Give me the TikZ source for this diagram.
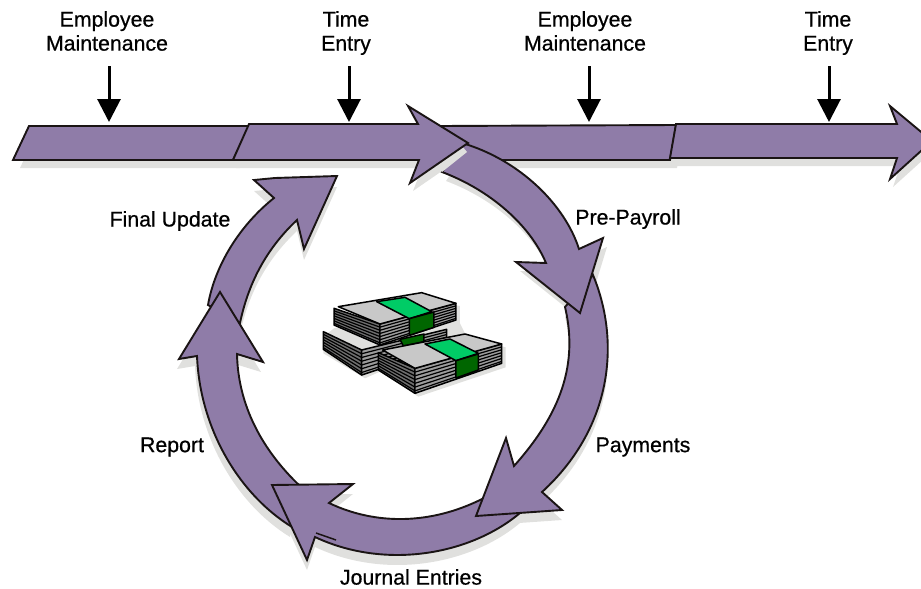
\documentclass[tikz,border=0pt]{standalone}
\usepackage{fontspec}
\setmainfont{Liberation Sans}
\newfontfamily\lblfont{Liberation Sans}[RawFeature={embolden=0.6}]
\usetikzlibrary{arrows.meta,calc}
\definecolor{purp}{HTML}{8F7CA8}
\definecolor{shad}{HTML}{E0E0DE}
\definecolor{ink}{HTML}{1A1414}
\definecolor{grn}{HTML}{00CC66}
\definecolor{dgrn}{HTML}{006600}
\definecolor{billtop}{HTML}{C8C8C8}
\definecolor{billlong}{HTML}{9C9C9C}
\definecolor{billend}{HTML}{6E6E6E}
\tikzset{
  band/.style={fill=purp,draw=ink,line width=1.9pt,line join=miter,miter limit=20},
  shadowfill/.style={fill=shad},
  lbl/.style={font=\lblfont\fontsize{21.3}{24}\selectfont,align=center,text=black,inner sep=0pt},
  drop/.style={line width=3pt,draw=black,-{Triangle[width=23pt,length=23pt]},shorten >=0pt},
  bill/.style={draw=black,line width=1.5pt,line join=round},
}
\def\pSegA{(13,160) -- (29,126) -- (249,126) -- (233,160) -- cycle}
\def\pSegB{(233,160) -- (249,124) -- (418,124) -- (408,106) -- (468,143) -- (410,183) -- (419,160) -- cycle}
\def\pSegC{(440,126) -- (676,125) -- (670,160) -- (440,160) -- cycle}
\def\pSegD{(670,158) -- (676,124) -- (897,124) -- (890,106) -- (932,141) -- (890,179) -- (897,158) -- cycle}
\def\pPre{(442,172) .. controls (490,190) and (530,225) .. (546,263) -- (516,262) -- (580,313) -- (603,238) -- (579,249) .. controls (565,205) and (520,160) .. (462,143) -- cycle}
\def\pPay{(593,275) .. controls (622,345) and (610,430) .. (542,492) -- (562,510) -- (476,516) -- (506,438) -- (514,466) .. controls (555,420) and (580,370) .. (565,307) -- cycle}
\def\pJE{(520,513) .. controls (470,555) and (385,570) .. (315,537) -- (307,560) -- (272,485) -- (353,484) -- (329,503) .. controls (375,525) and (430,525) .. (482,499) -- cycle}
\def\pRep{(292,527) .. controls (240,495) and (200,430) .. (197,356) -- (179,359) -- (220,292) -- (263,362) -- (237,354) .. controls (238,405) and (262,450) .. (300,486) -- cycle}
\def\pFU{(208,305) .. controls (215,265) and (240,225) .. (274,198) -- (254,180) -- (275,178) -- (337,176) -- (304,249) -- (297,220) .. controls (265,250) and (248,285) .. (240,323) -- cycle}
% one stack face filled and striped along its long side
\newcommand\stripedface[5]{%
  \fill[#5] #1 -- #2 -- #3 -- #4 -- cycle;
  \foreach \t in {0.15,0.3,0.45,0.6,0.75,0.9}{\draw[black,line width=1.2pt] ($#1!\t!#4$) -- ($#2!\t!#3$);}
  \draw[bill] #1 -- #2 -- #3 -- #4 -- cycle;}
\begin{document}
\begin{tikzpicture}[x=1pt,y=-1pt]
\useasboundingbox (0,0) rectangle (921,589);
\clip (0,0) rectangle (921,589);
% drop shadows
\fill[shadowfill,shift={(7,8)}] \pSegA;
\fill[shadowfill,shift={(7,8)}] (233,152) -- (419,152) -- (419,160) -- (233,160) -- cycle;
\fill[shadowfill,shift={(3,8)}] \pSegB;
\fill[shadowfill,shift={(7,8)}] \pSegC;
\fill[shadowfill,shift={(3,8)}] \pSegD;
\fill[shadowfill,shift={(4,9)}] \pPre;
\fill[shadowfill,shift={(0,10)}] \pPay;
\fill[shadowfill,shift={(0,10)}] \pJE;
\fill[shadowfill,shift={(-2,10)}] \pRep;
\fill[shadowfill,shift={(0,11)}] \pFU;
% bars and loop, back to front
\draw[band] \pSegC;
\draw[band] \pSegA;
\draw[band] \pFU;
\draw[band] \pRep;
\draw[band] \pJE;
\draw[ink,line width=1.5pt] (316,533) -- (336,540);
\draw[band] \pPay;
\draw[band] \pPre;
\fill[shad] (462,146) -- (467,152) -- (442,172) -- (435,165) -- cycle;
\draw[band] \pSegB;
\draw[band] \pSegD;
% money
\begin{scope}[shift={(300,270)},x=0.3333pt,y=-0.3333pt]
  \fill[shad] (102,175) -- (70,200) -- (70,250) -- (195,325) -- (240,305) -- (355,380) -- (617,292) -- (617,232) -- (500,200) -- (480,160) -- (480,108) -- (440,100) -- cycle;
  % lower-left stack
  \stripedface{(70,185)}{(185,240)}{(185,315)}{(70,238)}{billend}
  \stripedface{(185,240)}{(440,178)}{(440,230)}{(185,315)}{billlong}
  \fill[dgrn] (300,208) -- (372,192) -- (372,215) -- (310,228) -- cycle;
  \draw[bill] (300,208) -- (372,192) -- (372,215) -- (310,228) -- cycle;
  % back stack
  \stripedface{(102,115)}{(240,162)}{(240,225)}{(102,165)}{billend}
  \stripedface{(240,162)}{(468,100)}{(468,150)}{(240,225)}{billlong}
  \fill[billtop] (115,110) -- (365,68) -- (468,100) -- (240,162) -- cycle;
  \draw[bill] (115,110) -- (365,68) -- (468,100) -- (240,162) -- cycle;
  \fill[grn] (230,95) -- (315,82) -- (395,125) -- (328,146) -- cycle;
  \draw[bill] (230,95) -- (315,82) -- (395,125) -- (328,146) -- cycle;
  \fill[dgrn] (328,146) -- (402,126) -- (402,172) -- (328,196) -- cycle;
  \draw[bill] (328,146) -- (402,126) -- (402,172) -- (328,196) -- cycle;
  % front stack
  \stripedface{(235,248)}{(345,295)}{(345,370)}{(235,300)}{billend}
  \stripedface{(345,295)}{(605,222)}{(605,280)}{(345,370)}{billlong}
  \fill[billtop] (248,240) -- (495,192) -- (605,222) -- (345,295) -- cycle;
  \draw[bill] (248,240) -- (495,192) -- (605,222) -- (345,295) -- cycle;
  \fill[grn] (375,222) -- (450,207) -- (535,250) -- (468,272) -- cycle;
  \draw[bill] (375,222) -- (450,207) -- (535,250) -- (468,272) -- cycle;
  \fill[dgrn] (468,272) -- (535,252) -- (535,300) -- (468,324) -- cycle;
  \draw[bill] (468,272) -- (535,252) -- (535,300) -- (468,324) -- cycle;
\end{scope}
% labels
\node[lbl] (em1) at (107,31) {Employee\\Maintenance};
\node[lbl] (te1) at (346,33) {Time\\Entry};
\node[lbl] (em2) at (585,31) {Employee\\Maintenance};
\node[lbl] (te2) at (828,33) {Time\\Entry};
\node[lbl] (pre) at (628,219) {Pre-Payroll};
\node[lbl] (fin) at (170,221) {Final Update};
\node[lbl] (pay) at (643,447) {Payments};
\node[lbl] (rep) at (172,447) {Report};
\node[lbl] (jou) at (411,577) {Journal Entries};
% drop arrows onto the bar
\foreach \n/\x in {a/109,b/349,c/589,d/829}{
  \coordinate (\n s) at (\x,66);
  \coordinate (\n e) at (\x,122);
  \draw[drop] (\n s) -- (\n e);
}
\end{tikzpicture}
\end{document}
